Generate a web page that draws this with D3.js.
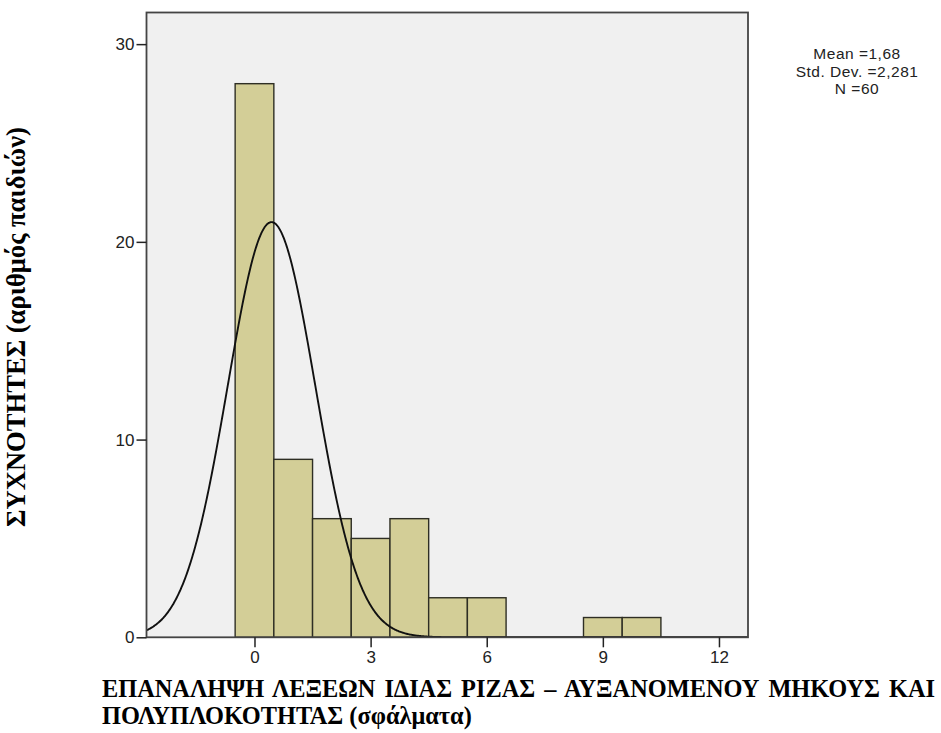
<!DOCTYPE html>
<html><head><meta charset="utf-8">
<script src="https://cdn.jsdelivr.net/npm/d3@7"></script>
<style>html,body{margin:0;padding:0;background:#fff;}svg{display:block;}</style>
</head><body>
<svg id="chart" width="941" height="733"></svg>
<script>
// ---- data ----
const binCenters = [0, 1, 2, 3, 4, 5, 6, 9, 10];
const counts = [28, 9, 6, 5, 6, 2, 2, 1, 1];
const binWidth = 1;
const xTicks = [0, 3, 6, 9, 12];
const yTicks = [0, 10, 20, 30];
const statsLines = ["Mean =1,68", "Std. Dev. =2,281", "N =60"];
// normal curve as drawn in the picture (centre, spread, peak height)
const curveCenter = 0.44;
const curveSD = 1.13;
const curvePeak = 21.0;
const xTitleLines = ["ΕΠΑΝΑΛΗΨΗ ΛΕΞΕΩΝ ΙΔΙΑΣ ΡΙΖΑΣ – ΑΥΞΑΝΟΜΕΝΟΥ ΜΗΚΟΥΣ ΚΑΙ", "ΠΟΛΥΠΛΟΚΟΤΗΤΑΣ (σφάλματα)"];
const yTitle = "ΣΥΧΝΟΤΗΤΕΣ (αριθμός παιδιών)";

// ---- layout ----
const svg = d3.select("#chart");
const L = 146.5, R = 748, T = 12.5, B = 637.3;
const x = d3.scaleLinear().domain([-2.79, 12.75]).range([L, R]);
const y = d3.scaleLinear().domain([0, 31.6]).range([B, T]);
const sans = "'Liberation Sans', Arial, sans-serif";

svg.append("rect").attr("x", L).attr("y", T).attr("width", R - L).attr("height", B - T).attr("fill", "#f0f0f0");

svg.append("clipPath").attr("id", "clip").append("rect")
  .attr("x", L).attr("y", T).attr("width", R - L).attr("height", B - T);

const bars = binCenters.map((c, i) => ({ c, n: counts[i] }));
svg.append("g").selectAll("rect").data(bars).join("rect")
  .attr("x", d => x(d.c - binWidth / 2))
  .attr("y", d => y(d.n))
  .attr("width", d => x(d.c + binWidth / 2) - x(d.c - binWidth / 2))
  .attr("height", d => y(0) - y(d.n))
  .attr("fill", "#d3ce97")
  .attr("stroke", "#2e2e24")
  .attr("stroke-width", 1.4);

const xs = d3.range(-2.79, 12.76, 0.02);
const curve = d3.line().x(d => x(d)).y(d => y(curvePeak * Math.exp(-((d - curveCenter) ** 2) / (2 * curveSD * curveSD)))).curve(d3.curveBasis);
svg.append("path").datum(xs).attr("d", curve).attr("fill", "none")
  .attr("stroke", "#111").attr("stroke-width", 1.9).attr("clip-path", "url(#clip)");

svg.append("rect").attr("x", L).attr("y", T).attr("width", R - L).attr("height", B - T)
  .attr("fill", "none").attr("stroke", "#444").attr("stroke-width", 1.8);

// axes
const xAxis = d3.axisBottom(x).tickValues(xTicks).tickSize(10).tickPadding(4).tickFormat(d3.format("d"));
const gx = svg.append("g").attr("transform", `translate(0,${B})`).call(xAxis);
gx.select(".domain").remove();
gx.selectAll(".tick line").attr("stroke", "#222").attr("stroke-width", 1.5);
gx.selectAll(".tick text").attr("font-family", sans).attr("font-size", 17).attr("fill", "#222");

const yAxis = d3.axisLeft(y).tickValues(yTicks).tickSize(10).tickPadding(2).tickFormat(d3.format("d"));
const gy = svg.append("g").attr("transform", `translate(${L},0)`).call(yAxis);
gy.select(".domain").remove();
gy.selectAll(".tick line").attr("stroke", "#222").attr("stroke-width", 1.5);
gy.selectAll(".tick text").attr("font-family", sans).attr("font-size", 17).attr("fill", "#222");

// stats
svg.append("g").selectAll("text").data(statsLines).join("text")
  .attr("x", 857).attr("y", (d, i) => 59 + i * 17.5)
  .attr("text-anchor", "middle")
  .attr("font-family", sans).attr("font-size", 15.5).attr("letter-spacing", 0.5)
  .attr("fill", "#222").text(d => d);

// x title (justified first line)
const serif = "'Liberation Serif', 'Times New Roman', serif";
const t2 = svg.append("text").attr("x", 102).attr("y", 724)
  .attr("font-family", serif).attr("font-weight", "bold").attr("font-size", 22).attr("fill", "#000").text(xTitleLines[1]);
const w2 = t2.node().getComputedTextLength();
const fs = 22 * 370 / w2;
t2.attr("font-size", fs);
const t1 = svg.append("text").attr("x", 102).attr("y", 697)
  .attr("font-family", serif).attr("font-weight", "bold").attr("font-size", fs).attr("fill", "#000").text(xTitleLines[0]);
const w1 = t1.node().getComputedTextLength();
const nSp = xTitleLines[0].split(" ").length - 1;
t1.attr("word-spacing", (833 - w1) / nSp);

// y title
const ty = svg.append("text").attr("transform", "translate(25,327) rotate(-90)")
  .attr("text-anchor", "middle").attr("font-family", serif).attr("font-weight", "bold")
  .attr("font-size", 22).attr("fill", "#000").text(yTitle);
const wy = ty.node().getComputedTextLength();
ty.attr("font-size", 22 * 400 / wy);
</script>
</body></html>
